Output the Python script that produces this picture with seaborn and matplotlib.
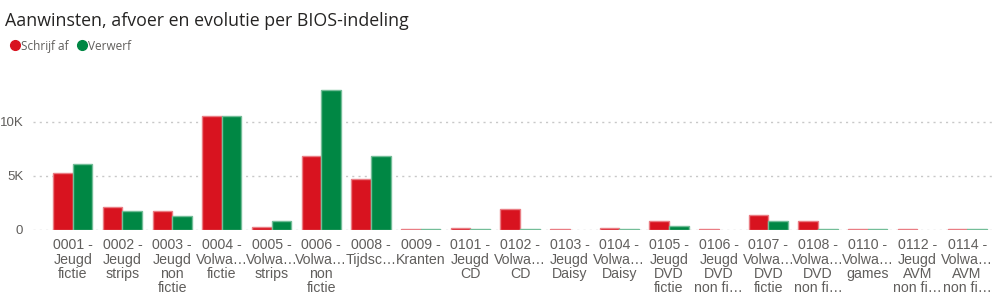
import matplotlib
matplotlib.use("Agg")
import matplotlib.pyplot as plt
from matplotlib.lines import Line2D
import seaborn as sns
import pandas as pd
import numpy as np

categories = [
    "0001 -\nJeugd\nfictie", "0002 -\nJeugd\nstrips", "0003 -\nJeugd\nnon\nfictie",
    "0004 -\nVolwa…\nfictie", "0005 -\nVolwa…\nstrips", "0006 -\nVolwa…\nnon\nfictie",
    "0008 -\nTijdsc…", "0009 -\nKranten", "0101 -\nJeugd\nCD", "0102 -\nVolwa…\nCD",
    "0103 -\nJeugd\nDaisy", "0104 -\nVolwa…\nDaisy", "0105 -\nJeugd\nDVD\nfictie",
    "0106 -\nJeugd\nDVD\nnon fi…", "0107 -\nVolwa…\nDVD\nfictie",
    "0108 -\nVolwa…\nDVD\nnon fi…", "0110 -\nVolwa…\ngames",
    "0112 -\nJeugd\nAVM\nnon fi…", "0114 -\nVolwa…\nAVM\nnon fi…",
]
schrijf_af = [5260, 2090, 1720, 10500, 250, 6860, 4680, 130, 150, 1970,
              110, 150, 860, 110, 1420, 860, 110, 110, 110]
verwerf = [6120, 1720, 1320, 10500, 830, 12900, 6800, 110, 110, 110,
           np.nan, 110, 340, np.nan, 830, 110, 110, np.nan, 110]
series_names = ["Schrijf af", "Verwerf"]
colors = ["#D8131F", "#008744"]

df = pd.DataFrame({
    "cat": categories * 2,
    "series": [series_names[0]] * len(categories) + [series_names[1]] * len(categories),
    "value": schrijf_af + verwerf,
})

sns.set_style("white")
plt.rcParams["font.family"] = ["Liberation Sans", "DejaVu Sans"]

fig = plt.figure(figsize=(10.01, 3.01), dpi=100)
ax = fig.add_axes([0.033, 0.236, 0.958, 0.479])

sns.barplot(data=df, x="cat", y="value", hue="series", order=categories,
            hue_order=series_names, palette=colors, width=0.79, ax=ax,
            legend=False, errorbar=None, saturation=1)

for patch in ax.patches:
    fc = patch.get_facecolor()
    light = tuple(0.55 * np.array(fc[:3]) + 0.45)
    patch.set_edgecolor(light)
    patch.set_linewidth(1.0)

ax.set_xlim(-0.8, 18.5)
ax.set_ylim(0, 13300)
ax.set_yticks([0, 5000, 10000])
ax.set_yticklabels(["0", "5K", "10K"])
ax.set_xlabel("")
ax.set_ylabel("")
for s in ax.spines.values():
    s.set_visible(False)
ax.yaxis.grid(True, linestyle=(0, (1.5, 3)), color="#C8C8C8", linewidth=1)
ax.set_axisbelow(True)
ax.tick_params(axis="y", length=0, labelsize=9.5, labelcolor="#605E5C", pad=7)
ax.tick_params(axis="x", length=0, labelsize=10.2, labelcolor="#605E5C", pad=6)
for lbl in ax.get_xticklabels():
    lbl.set_linespacing(1.02)

fig.text(0.005, 0.915, "Aanwinsten, afvoer en evolutie per BIOS-indeling",
         fontsize=12.8, color="#252423", ha="left", va="baseline",
         family=["Open Sans", "DejaVu Sans"])

handles = [Line2D([0], [0], marker="o", linestyle="", markersize=7,
                  markerfacecolor=c, markeredgecolor=c) for c in colors]
fig.legend(handles, series_names, loc="center left", bbox_to_anchor=(-0.003, 0.847),
           frameon=False, ncol=2, handletextpad=-0.1,
           columnspacing=0.6, handlelength=1.2,
           prop={"family": ["Open Sans", "DejaVu Sans"], "size": 8.5},
           labelcolor="#605E5C")

fig.savefig("out.png", dpi=100)
